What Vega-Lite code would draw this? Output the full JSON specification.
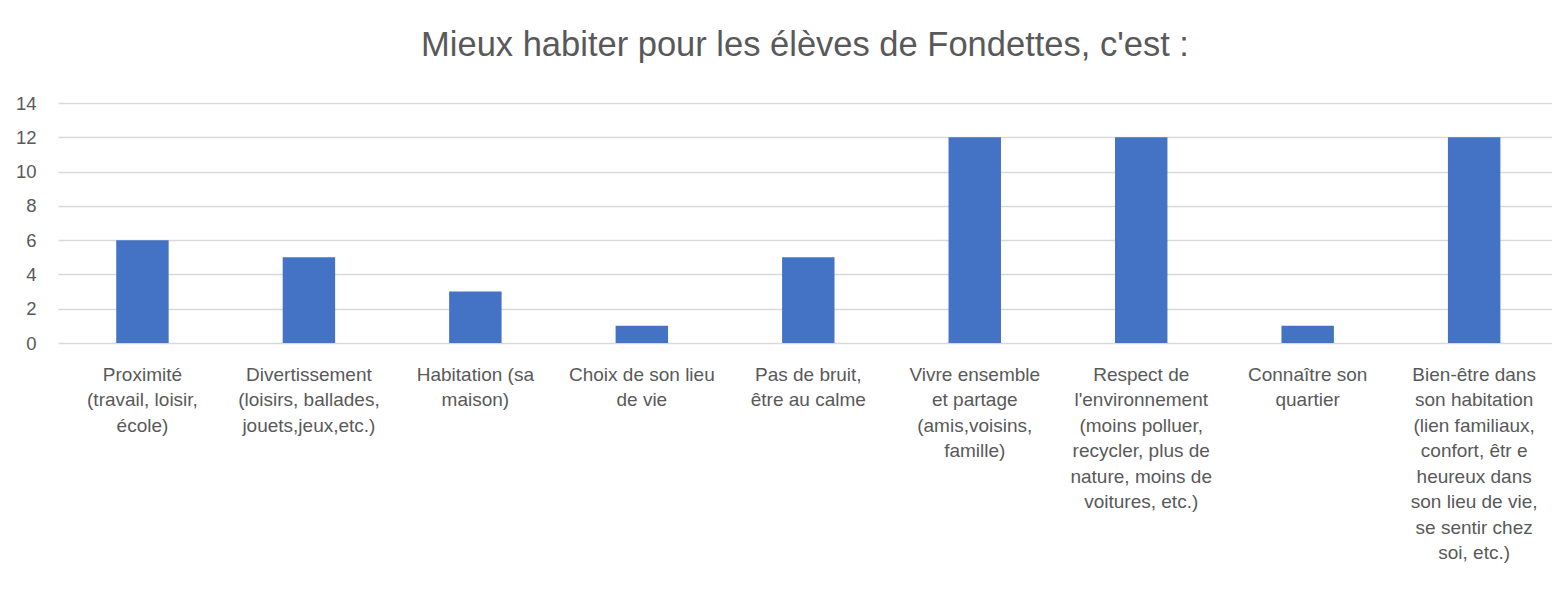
{
  "$schema": "https://vega.github.io/schema/vega-lite/v6.json",
  "autosize": "none",
  "width": 1494,
  "height": 240,
  "padding": {"left": 58, "top": 103, "right": 0, "bottom": 255},
  "background": "white",
  "title": {
    "text": "Mieux habiter pour les élèves de Fondettes, c'est :",
    "fontSize": 34.5,
    "font": "Liberation Sans",
    "fontWeight": "normal",
    "color": "#595959",
    "anchor": "middle",
    "offset": 31
  },
  "data": {
    "values": [
      {"categorie": "Proximité\n(travail, loisir,\nécole)", "valeur": 6},
      {"categorie": "Divertissement\n(loisirs, ballades,\njouets,jeux,etc.)", "valeur": 5},
      {"categorie": "Habitation (sa\nmaison)", "valeur": 3},
      {"categorie": "Choix de son lieu\nde vie", "valeur": 1},
      {"categorie": "Pas de bruit,\nêtre au calme", "valeur": 5},
      {"categorie": "Vivre ensemble\net partage\n(amis,voisins,\nfamille)", "valeur": 12},
      {"categorie": "Respect de\nl'environnement\n(moins polluer,\nrecycler, plus de\nnature, moins de\nvoitures, etc.)", "valeur": 12},
      {"categorie": "Connaître son\nquartier", "valeur": 1},
      {"categorie": "Bien-être dans\nson habitation\n(lien familiaux,\nconfort, êtr e\nheureux dans\nson lieu de vie,\nse sentir chez\nsoi, etc.)", "valeur": 12}
    ]
  },
  "mark": {"type": "bar", "color": "#4472C4"},
  "encoding": {
    "x": {
      "field": "categorie",
      "type": "nominal",
      "sort": null,
      "scale": {"paddingInner": 0.685, "paddingOuter": 0.33, "align": 0.53},
      "axis": {
        "title": null,
        "labelAngle": 0,
        "labelExpr": "split(datum.label, '\\n')",
        "labelFont": "Liberation Sans",
        "labelFontSize": 19,
        "labelColor": "#595959",
        "labelLineHeight": 25.5,
        "labelPadding": 22,
        "labelLimit": 0,
        "ticks": false,
        "domain": false,
        "labelBaseline": "top"
      }
    },
    "y": {
      "field": "valeur",
      "type": "quantitative",
      "scale": {"domain": [0, 14]},
      "axis": {
        "title": null,
        "values": [0, 2, 4, 6, 8, 10, 12, 14],
        "labelFont": "Liberation Sans",
        "labelFontSize": 18.5,
        "labelColor": "#595959",
        "labelPadding": 22,
        "ticks": false,
        "domain": false,
        "gridColor": "#D9D9D9",
        "gridWidth": 1.3
      }
    }
  },
  "config": {"view": {"stroke": null}}
}
